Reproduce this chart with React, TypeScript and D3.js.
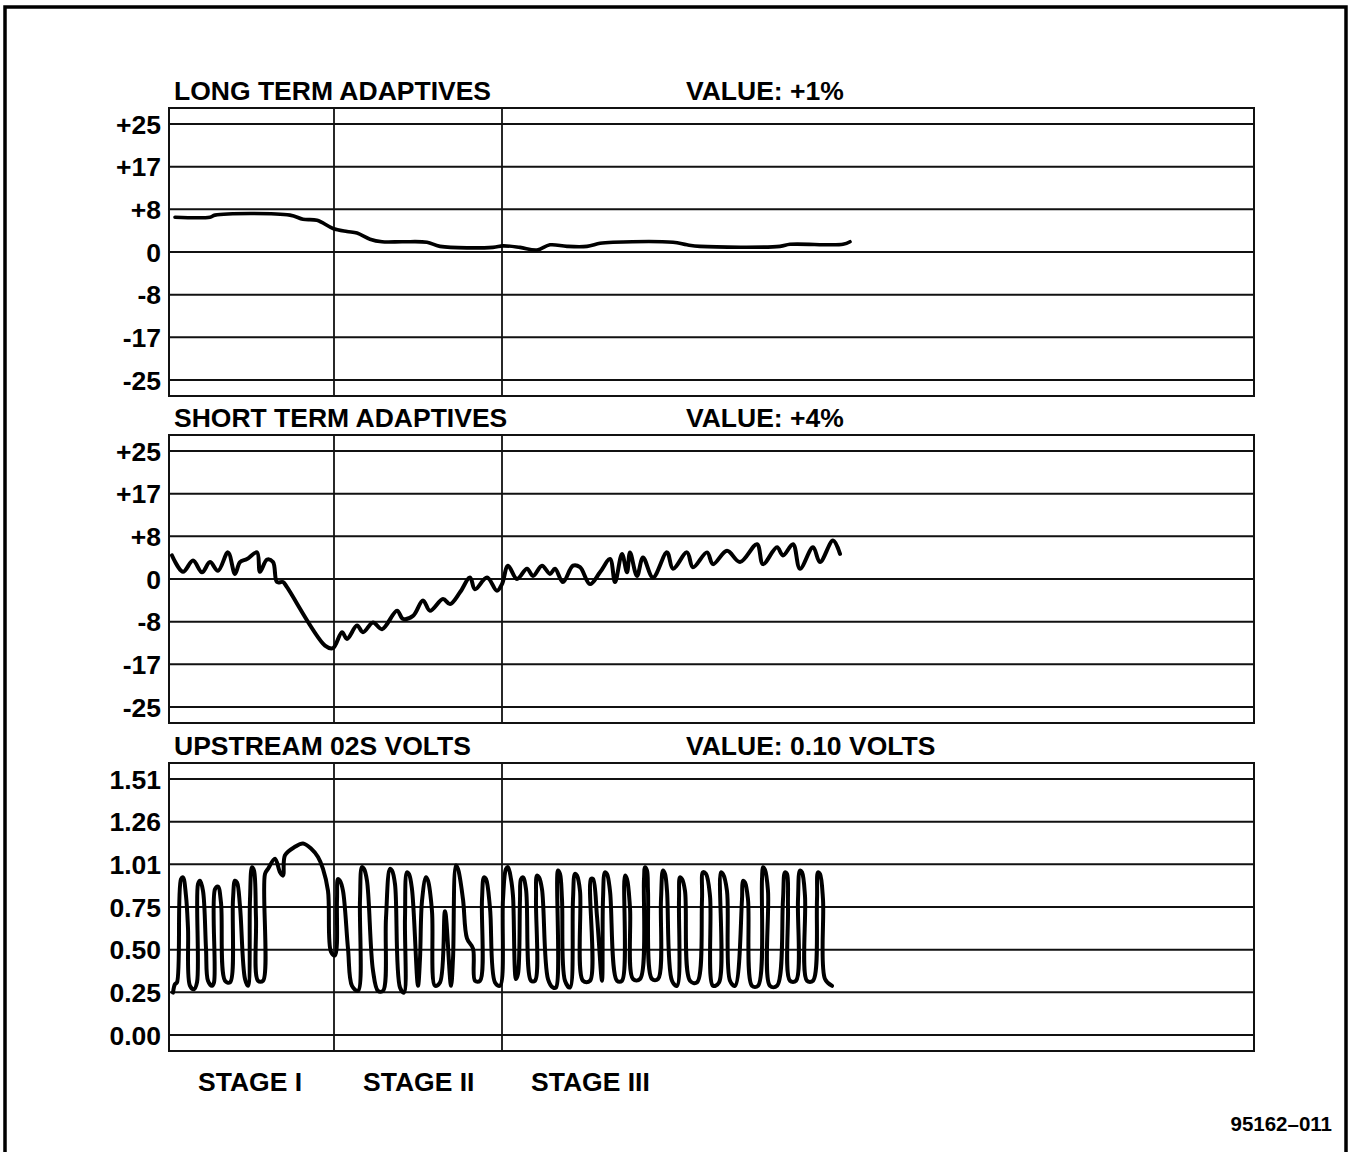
import React from "react";
import * as d3 from "d3";

const WIDTH = 1351;
const HEIGHT = 1152;

// Time axis in seconds; the three test stages begin at these times.
const timeExtent: [number, number] = [0, 108.5];
const stageNames = ["STAGE I", "STAGE II", "STAGE III"];
const stageStarts = [0, 16.5, 33.3];

const panelTitles = ["LONG TERM ADAPTIVES", "SHORT TERM ADAPTIVES", "UPSTREAM 02S VOLTS"];
const panelReadouts = ["VALUE: +1%", "VALUE: +4%", "VALUE: 0.10 VOLTS"];

const pctTickValues = [25, 16.67, 8.33, 0, -8.33, -16.67, -25];
const pctTickLabels = ["+25", "+17", "+8", "0", "-8", "-17", "-25"];
const voltTickValues = [1.51, 1.2583, 1.0067, 0.755, 0.5033, 0.2517, 0];
const voltTickLabels = ["1.51", "1.26", "1.01", "0.75", "0.50", "0.25", "0.00"];

const figureId = "95162\u2013011";

// Long term fuel trim, percent, [seconds, %]
const longTermTrace: [number, number][] = [
  [0.6, 6.8], [4.1, 6.8], [4.6, 7.2], [12.1, 7.2], [13.4, 6.4], [14.8, 6.2],
  [16.4, 4.6], [17.8, 4.0], [18.8, 3.7], [20.1, 2.5], [21.3, 2.0], [23.4, 2.0],
  [25.8, 1.9], [27.1, 1.1], [32.4, 0.9], [33.4, 1.2], [35.1, 0.9], [36.8, 0.4],
  [38.1, 1.4], [39.8, 1.1], [41.8, 1.1], [43.1, 1.7], [44.4, 1.9], [50.4, 1.9],
  [51.8, 1.4], [53.1, 1.1], [61.1, 1.1], [62.1, 1.5], [67.4, 1.5], [68.1, 2.0],
];

// Short term fuel trim, percent, [seconds, %]
const shortTermTrace: [number, number][] = [
  [0.3, 4.6], [1.4, 1.4], [2.4, 3.6], [3.3, 1.3], [4.1, 3.3], [4.9, 1.6],
  [5.9, 5.2], [6.6, 1.0], [7.1, 3.3], [7.8, 3.9], [8.8, 5.2], [9.1, 1.4],
  [9.8, 3.8], [10.4, 3.3], [10.8, -0.6], [11.4, -0.6], [11.8, -1.6],
  [15.6, -13.0], [16.4, -13.5], [17.3, -10.4], [17.8, -11.7], [18.8, -9.1],
  [19.4, -10.4], [20.4, -8.5], [21.3, -9.8], [22.8, -6.2], [23.4, -7.8],
  [24.4, -7.2], [25.4, -4.2], [26.1, -6.2], [27.4, -3.9], [28.1, -4.9],
  [29.1, -2.6], [30.1, 0.3], [30.6, -2.0], [31.8, 0.3], [32.8, -2.3],
  [33.3, -1.0], [33.9, 2.6], [34.8, 0.0], [35.8, 2.0], [36.4, 0.6],
  [37.3, 2.6], [38.1, 1.0], [38.6, 2.0], [39.4, -0.6], [40.4, 2.6],
  [41.1, 2.3], [42.1, -1.0], [43.1, 1.3], [44.1, 3.9], [44.6, -0.6],
  [45.3, 4.9], [45.8, 1.3], [46.1, 5.2], [46.8, 0.6], [47.4, 4.2],
  [48.4, 0.3], [49.8, 5.2], [50.4, 2.0], [51.8, 5.2], [52.4, 2.3],
  [53.8, 5.2], [54.4, 2.9], [55.8, 5.5], [57.1, 3.3], [58.8, 6.8],
  [59.4, 2.9], [60.8, 6.2], [61.4, 4.6], [62.4, 6.8], [63.1, 2.0],
  [64.4, 6.2], [65.1, 3.3], [66.4, 7.5], [67.1, 4.9],
];

// Upstream oxygen sensor, volts, [seconds, V]
const o2Trace: [number, number][] = [
  // stage I
  [0.4, 0.25], [0.6, 0.30], [0.8, 0.31], [1.2, 0.92], [1.4, 0.93], [1.7, 0.82],
  [1.9, 0.63], [2.1, 0.29], [2.5, 0.27], [2.8, 0.31], [2.9, 0.89], [3.1, 0.91],
  [3.4, 0.85], [3.7, 0.51], [3.9, 0.32], [4.3, 0.29], [4.5, 0.31], [4.6, 0.86],
  [4.9, 0.875], [5.2, 0.78], [5.6, 0.32], [6.1, 0.31], [6.4, 0.80], [6.6, 0.91],
  [6.8, 0.90], [7.1, 0.76], [7.6, 0.33], [7.9, 0.29], [8.1, 0.80], [8.3, 0.99],
  [8.5, 0.97], [8.7, 0.69], [8.9, 0.32], [9.4, 0.32], [9.6, 0.95], [9.9, 0.98],
  [10.6, 1.04], [11.1, 0.96], [11.4, 0.94], [11.6, 1.06], [12.6, 1.11],
  [13.4, 1.13], [14.2, 1.10], [14.9, 1.05], [15.4, 0.98], [15.9, 0.85],
  [16.2, 0.49], [16.6, 0.47], [16.8, 0.80], [16.9, 0.92],
  // stage II
  [17.1, 0.91], [17.4, 0.85], [17.9, 0.51], [18.3, 0.29], [18.9, 0.26],
  [19.1, 0.80], [19.3, 0.99], [19.5, 0.98], [19.8, 0.91], [20.4, 0.38],
  [20.9, 0.26], [21.4, 0.26], [21.7, 0.69], [22.1, 0.98], [22.3, 0.97],
  [22.6, 0.89], [23.1, 0.28], [23.5, 0.25], [23.6, 0.69], [23.8, 0.96],
  [24.0, 0.95], [24.3, 0.86], [24.9, 0.29], [25.1, 0.45], [25.3, 0.79],
  [25.7, 0.93], [25.9, 0.91], [26.3, 0.73], [26.6, 0.29], [27.1, 0.31],
  [27.6, 0.73], [28.2, 0.29], [28.4, 0.45], [28.7, 1.00], [28.9, 0.98],
  [29.4, 0.80], [29.8, 0.57], [30.4, 0.51], [30.6, 0.32], [31.1, 0.32],
  [31.3, 0.80], [31.5, 0.93], [31.7, 0.92], [32.1, 0.75], [32.6, 0.31],
  [33.1, 0.29],
  // stage III
  [33.4, 0.80], [33.7, 0.98], [33.9, 0.99], [34.2, 0.92], [34.4, 0.82],
  [34.7, 0.33], [34.9, 0.36], [35.1, 0.80], [35.2, 0.92], [35.4, 0.93],
  [35.7, 0.86], [36.2, 0.32], [36.6, 0.32], [36.7, 0.80], [36.8, 0.94],
  [37.0, 0.93], [37.3, 0.86], [37.9, 0.33], [38.4, 0.28], [38.7, 0.28],
  [38.9, 0.97], [39.1, 0.95], [39.3, 0.80], [39.6, 0.32], [40.1, 0.28],
  [40.4, 0.80], [40.6, 0.95], [40.8, 0.94], [41.1, 0.85], [41.4, 0.32],
  [42.1, 0.32], [42.2, 0.92], [42.4, 0.92], [42.8, 0.70], [43.3, 0.32],
  [43.4, 0.80], [43.6, 0.96], [43.8, 0.95], [44.1, 0.85], [44.8, 0.32],
  [45.3, 0.32], [45.6, 0.94], [45.8, 0.92], [46.1, 0.75], [46.4, 0.33],
  [47.1, 0.33], [47.5, 0.92], [47.6, 0.99], [47.8, 0.97], [47.9, 0.85],
  [48.3, 0.33], [48.9, 0.33], [49.2, 0.80], [49.4, 0.97], [49.6, 0.95],
  [49.8, 0.85], [50.3, 0.32], [50.8, 0.29], [51.0, 0.80], [51.1, 0.93],
  [51.3, 0.92], [51.6, 0.85], [52.1, 0.32], [52.8, 0.31], [53.3, 0.80],
  [53.4, 0.96], [53.7, 0.95], [54.1, 0.82], [54.4, 0.29], [55.0, 0.31],
  [55.2, 0.96], [55.4, 0.95], [55.8, 0.85], [56.1, 0.32], [56.6, 0.29],
  [57.3, 0.80], [57.4, 0.91], [57.6, 0.90], [57.9, 0.80], [58.3, 0.29],
  [58.9, 0.29], [59.3, 0.92], [59.4, 0.99], [59.6, 0.975], [59.9, 0.85],
  [60.1, 0.29], [60.8, 0.29], [61.4, 0.80], [61.6, 0.96], [61.8, 0.95],
  [61.9, 0.75], [62.1, 0.32], [62.7, 0.32], [62.9, 0.80], [63.1, 0.97],
  [63.3, 0.96], [63.6, 0.82], [63.8, 0.32], [64.4, 0.32], [64.8, 0.80],
  [64.9, 0.96], [65.1, 0.95], [65.4, 0.80], [65.6, 0.33], [66.3, 0.29],
];

const PLOT_LEFT = 169;
const PLOT_RIGHT = 1254;
const PANEL_TOPS = [108, 435, 763];
const PANEL_HEIGHT = 288;
const GRID_INSET = 16;
const FONT = "'Liberation Sans', Arial, Helvetica, sans-serif";
const LABEL_SIZE = 26.5;

const x = d3.scaleLinear().domain(timeExtent).range([PLOT_LEFT, PLOT_RIGHT]);

type PanelSpec = {
  title: string;
  readout: string;
  domain: [number, number];
  ticks: number[];
  labels: string[];
  trace: [number, number][];
  width: number;
};

const panels: PanelSpec[] = [
  { title: panelTitles[0], readout: panelReadouts[0], domain: [-25, 25], ticks: pctTickValues, labels: pctTickLabels, trace: longTermTrace, width: 3.6 },
  { title: panelTitles[1], readout: panelReadouts[1], domain: [-25, 25], ticks: pctTickValues, labels: pctTickLabels, trace: shortTermTrace, width: 4 },
  { title: panelTitles[2], readout: panelReadouts[2], domain: [0, 1.51], ticks: voltTickValues, labels: voltTickLabels, trace: o2Trace, width: 4 },
];

function Panel({ spec, top }: { spec: PanelSpec; top: number }) {
  const y = d3
    .scaleLinear()
    .domain(spec.domain)
    .range([top + PANEL_HEIGHT - GRID_INSET, top + GRID_INSET]);
  const line = d3
    .line<[number, number]>()
    .x((d) => x(d[0]))
    .y((d) => y(d[1]))
    .curve(d3.curveCatmullRom.alpha(0.5));

  return (
    <g>
      <text x={174} y={top - 8.5} fontSize={LABEL_SIZE} fontWeight="bold" fontFamily={FONT}>
        {spec.title}
      </text>
      <text x={686} y={top - 8.5} fontSize={LABEL_SIZE} fontWeight="bold" fontFamily={FONT}>
        {spec.readout}
      </text>
      {spec.ticks.map((v, i) => (
        <g key={i}>
          <line x1={PLOT_LEFT} x2={PLOT_RIGHT} y1={y(v)} y2={y(v)} stroke="#111" strokeWidth={2} />
          <text
            x={161}
            y={y(v) + 9.5}
            textAnchor="end"
            fontSize={LABEL_SIZE}
            fontWeight="bold"
            fontFamily={FONT}
          >
            {spec.labels[i]}
          </text>
        </g>
      ))}
      {stageStarts.slice(1).map((s, i) => (
        <line key={i} x1={x(s)} x2={x(s)} y1={top} y2={top + PANEL_HEIGHT} stroke="#111" strokeWidth={1.8} />
      ))}
      <rect x={PLOT_LEFT} y={top} width={PLOT_RIGHT - PLOT_LEFT} height={PANEL_HEIGHT} fill="none" stroke="#111" strokeWidth={2} />
      <path d={line(spec.trace) ?? ""} fill="none" stroke="#000" strokeWidth={spec.width} strokeLinejoin="round" strokeLinecap="round" />
    </g>
  );
}

export default function App() {
  const stageLabelY = PANEL_TOPS[2] + PANEL_HEIGHT + 40;
  return (
    <svg
      width={WIDTH}
      height={HEIGHT}
      viewBox={`0 0 ${WIDTH} ${HEIGHT}`}
      style={{ position: "absolute", left: 0, top: 0, background: "#fff" }}
    >
      <rect x={0} y={0} width={WIDTH} height={HEIGHT} fill="#fff" />
      <rect x={5} y={7} width={1341} height={1170} fill="none" stroke="#000" strokeWidth={3.5} />
      {panels.map((p, i) => (
        <Panel key={i} spec={p} top={PANEL_TOPS[i]} />
      ))}
      {stageNames.map((name, i) => (
        <text
          key={name}
          x={x(stageStarts[i]) + 29}
          y={stageLabelY}
          fontSize={LABEL_SIZE}
          fontWeight="bold"
          fontFamily={FONT}
        >
          {name}
        </text>
      ))}
      <text x={1332} y={1131} textAnchor="end" fontSize={20.5} fontWeight="bold" fontFamily={FONT}>
        {figureId}
      </text>
    </svg>
  );
}
